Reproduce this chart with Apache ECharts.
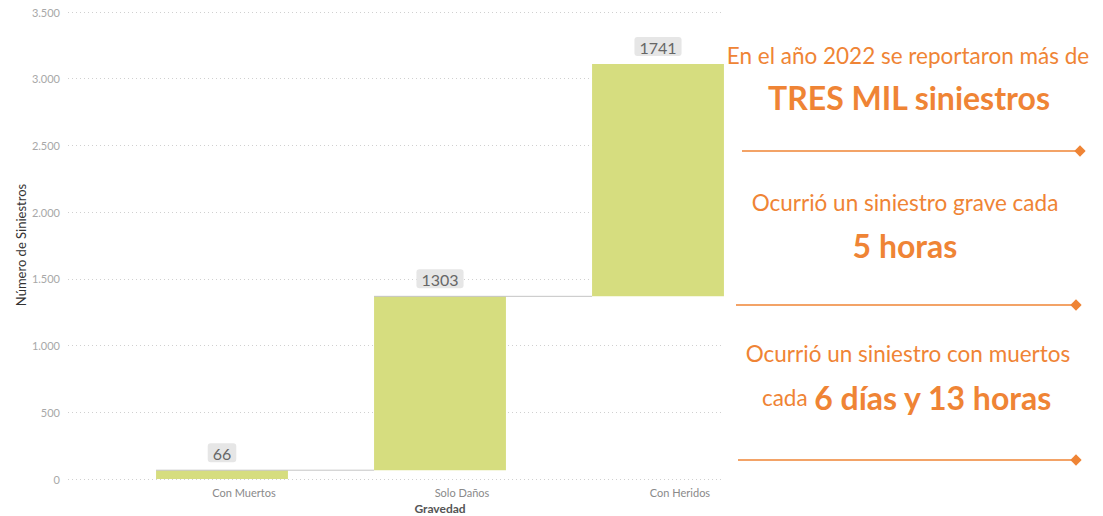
<!DOCTYPE html>
<html>
<head>
<meta charset="utf-8">
<script src="https://cdn.jsdelivr.net/npm/echarts@6/dist/echarts.min.js"></script>
<style>
html,body{margin:0;padding:0;background:#fff;}
#c{width:1103px;height:516px;}
</style>
</head>
<body>
<div id="c"></div>
<script>
const categories = ['Con Muertos', 'Solo Daños', 'Con Heridos'];
const values = [66, 1303, 1741];
const yTicks = [0, 500, 1000, 1500, 2000, 2500, 3000, 3500];
const yAxisName = 'Número de Siniestros';
const xAxisName = 'Gravedad';

// waterfall bases computed from the values
const bases = [];
let run = 0;
values.forEach(v => { bases.push(run); run += v; });
const ends = values.map((v, i) => bases[i] + v);
const connectors = ends.slice(0, -1).map((e, i) => [i, e]);

const orange = '#EF8435';
const font = 'Lato, "Open Sans", sans-serif';
const fmt = v => String(v).replace(/\B(?=(\d{3})+(?!\d))/g, '.');

const chart = echarts.init(document.getElementById('c'), null, {renderer: 'svg'});
const yMin = yTicks[0], yMax = yTicks[yTicks.length - 1], yInt = yTicks[1] - yTicks[0];

function sep(y, x1, x2) {
  return [
    {type: 'line', shape: {x1: x1, y1: y, x2: x2, y2: y}, style: {stroke: orange, lineWidth: 1.3}},
    {type: 'rect', x: x2, y: y, rotation: Math.PI / 4, shape: {x: -4, y: -4, width: 8, height: 8}, style: {fill: orange}}
  ];
}

chart.setOption({
  animation: false,
  textStyle: {fontFamily: font},
  grid: [
    {left: 68, right: 380, top: 12, bottom: 37, outerBoundsMode: 'none', containLabel: false},
    {left: 113, right: 336, top: 12, bottom: 37, outerBoundsMode: 'none', containLabel: false}
  ],
  xAxis: [
    {gridIndex: 0, type: 'category', data: categories, show: false},
    {gridIndex: 1, type: 'category', data: categories,
     axisLine: {show: false}, axisTick: {show: false},
     axisLabel: {color: '#8a8a8a', fontSize: 11, margin: 8, padding: [0, 0, 0, 44]},
     name: xAxisName, nameLocation: 'middle', nameGap: 23,
     nameTextStyle: {color: '#555', fontSize: 12, fontWeight: 'bold'}}
  ],
  yAxis: [
    {gridIndex: 0, type: 'value', min: yMin, max: yMax, interval: yInt,
     axisLine: {show: false}, axisTick: {show: false},
     axisLabel: {color: '#a8a8a8', fontSize: 11, margin: 8, formatter: fmt},
     splitLine: {lineStyle: {color: '#d0d0d0', type: [1, 3], width: 1}}},
    {gridIndex: 1, type: 'value', min: yMin, max: yMax, interval: yInt, show: false,
     splitLine: {show: false}}
  ],
  series: [
    {type: 'bar', xAxisIndex: 1, yAxisIndex: 1, stack: 'w', data: bases,
     itemStyle: {color: 'transparent'}, barWidth: '60.5%', silent: true},
    {type: 'bar', xAxisIndex: 1, yAxisIndex: 1, stack: 'w', data: values,
     itemStyle: {color: '#D6DD7F'}, barWidth: '60.5%',
     label: {show: true, position: 'top', distance: 8, color: '#666', fontSize: 16,
             backgroundColor: '#e6e6e6', borderRadius: 3, padding: [2, 5, 1, 5]}},
    {type: 'custom', xAxisIndex: 1, yAxisIndex: 1, data: connectors, z: 5,
     renderItem: function (params, api) {
       const p = api.coord([api.value(0), api.value(1)]);
       const band = api.size([1, 0])[0];
       const bw = band * 0.605;
       const x1 = p[0] - bw / 2;
       const x2 = p[0] + band - bw / 2;
       return {type: 'line', shape: {x1: x1, y1: p[1], x2: x2, y2: p[1]},
               style: {stroke: '#c4c4c4', lineWidth: 1}};
     }}
  ],
  graphic: [
    {type: 'text', x: 21, y: 245, rotation: Math.PI / 2, style: {text: yAxisName, fill: '#333', font: '13px ' + font, align: 'center', verticalAlign: 'middle'}},
    {type: 'text', x: 908, y: 55, style: {text: 'En el año 2022 se reportaron más de', fill: orange, font: '22.5px ' + font, align: 'center', verticalAlign: 'middle'}},
    {type: 'text', x: 909, y: 97, style: {text: 'TRES MIL siniestros', fill: orange, font: 'bold 32px ' + font, align: 'center', verticalAlign: 'middle'}},
    ...sep(151, 742, 1080),
    {type: 'text', x: 905, y: 202, style: {text: 'Ocurrió un siniestro grave cada', fill: orange, font: '22.5px ' + font, align: 'center', verticalAlign: 'middle'}},
    {type: 'text', x: 905, y: 245, style: {text: '5 horas', fill: orange, font: 'bold 32px ' + font, align: 'center', verticalAlign: 'middle'}},
    ...sep(305, 736, 1076),
    {type: 'text', x: 908, y: 353, style: {text: 'Ocurrió un siniestro con muertos', fill: orange, font: '22.5px ' + font, align: 'center', verticalAlign: 'middle'}},
    {type: 'text', x: 907, y: 397, style: {
      text: '{a|cada }{b|6 días y 13 horas}', align: 'center', verticalAlign: 'middle',
      rich: {a: {fill: orange, fontSize: 22.5, fontFamily: font}, b: {fill: orange, fontSize: 32, fontWeight: 'bold', fontFamily: font}}}},
    ...sep(460, 738, 1076)
  ]
});
</script>
</body>
</html>
